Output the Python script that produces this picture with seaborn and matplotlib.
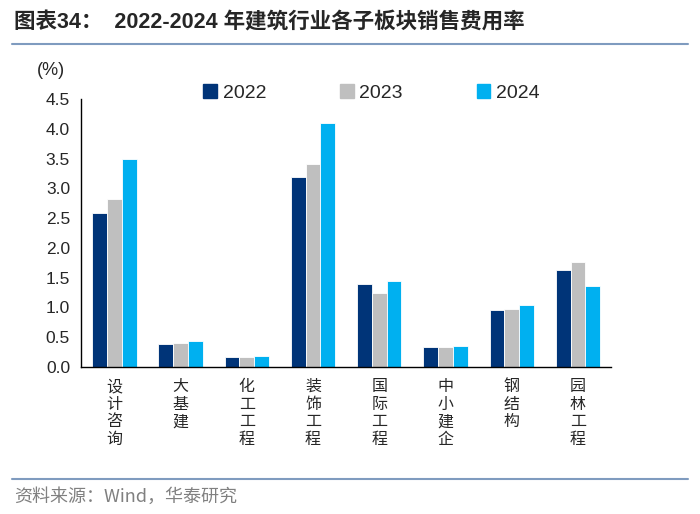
import numpy as np
import pandas as pd
import matplotlib.pyplot as plt
import seaborn as sns
from matplotlib.lines import Line2D

sns.set_theme(style="white")
plt.rcParams['font.family'] = ['Liberation Sans', 'Noto Sans CJK SC', 'DejaVu Sans']

# Dati
categorie = ['设计咨询', '大基建', '化工工程', '装饰工程', '国际工程', '中小建企', '钢结构', '园林工程']
anni = ['2022', '2023', '2024']
v2022 = [2.59, 0.38, 0.17, 3.20, 1.40, 0.33, 0.96, 1.63]
v2023 = [2.83, 0.40, 0.17, 3.41, 1.25, 0.33, 0.97, 1.77]
v2024 = [3.50, 0.44, 0.19, 4.10, 1.44, 0.36, 1.04, 1.36]
colori = ['#003478', '#BFBFBF', '#00B0F0']

df = pd.DataFrame({
    'cat': categorie * 3,
    'anno': np.repeat(anni, len(categorie)),
    'val': v2022 + v2023 + v2024,
})

fig = plt.figure(figsize=(7, 5.14), dpi=100)
ax = fig.add_axes([0.116, 0.286, 0.757, 0.521])

sns.barplot(data=df, x='cat', y='val', hue='anno', palette=colori, width=0.67,
            gap=0, edgecolor='white', linewidth=0.6, ax=ax, saturation=1)

ax.set_ylim(0, 4.5)
ax.set_xlim(-0.5, len(categorie) - 0.5)
ax.set_yticks(np.arange(0, 4.51, 0.5))
ax.set_yticklabels([f'{v:.1f}' for v in np.arange(0, 4.51, 0.5)], fontsize=12.5)
ax.set_xticks(range(len(categorie)))
ax.set_xticklabels(['\n'.join(c) for c in categorie], fontsize=11.5,
                   family=['Noto Sans CJK SC'], linespacing=1.05, va='top')
ax.set_xticks(np.arange(-0.5, len(categorie)), minor=True)
ax.tick_params(axis='x', which='major', length=0, pad=8)
ax.tick_params(axis='x', which='minor', length=5, width=1, color='black', direction='out')
ax.tick_params(axis='y', length=5, width=1, color='black', direction='out', pad=3)
ax.set_xlabel('')
ax.set_ylabel('')
for s in ['top', 'right']:
    ax.spines[s].set_visible(False)
for s in ['left', 'bottom']:
    ax.spines[s].set_color('black')
    ax.spines[s].set_linewidth(1)

# Legenda
handles = [plt.Rectangle((0, 0), 1, 1, color=c) for c in colori]
ax.legend(handles, anni, loc='upper center', bbox_to_anchor=(0.548, 1.122), ncol=3,
          frameon=False, fontsize=14, handlelength=0.7, handleheight=0.7,
          handletextpad=0.3, columnspacing=3.8)

fig.text(0.052, 0.855, '(%)', fontsize=13)

# Titolo e fonte
fig.text(0.02, 0.955, '图表34：  2022-2024 年建筑行业各子板块销售费用率', fontsize=15.5,
         fontweight='bold', family=['Liberation Sans', 'Noto Sans CJK SC'], va='center')
fig.add_artist(Line2D([0.017, 0.983], [0.914, 0.914], color='#7F9BBF', lw=1.5))
fig.add_artist(Line2D([0.017, 0.983], [0.068, 0.068], color='#7F9BBF', lw=1.5))
fig.text(0.02, 0.033, '资料来源：Wind，华泰研究', fontsize=13, color='#808080',
         family=['Noto Sans CJK SC'], va='center')

plt.savefig('out.png', dpi=100)
